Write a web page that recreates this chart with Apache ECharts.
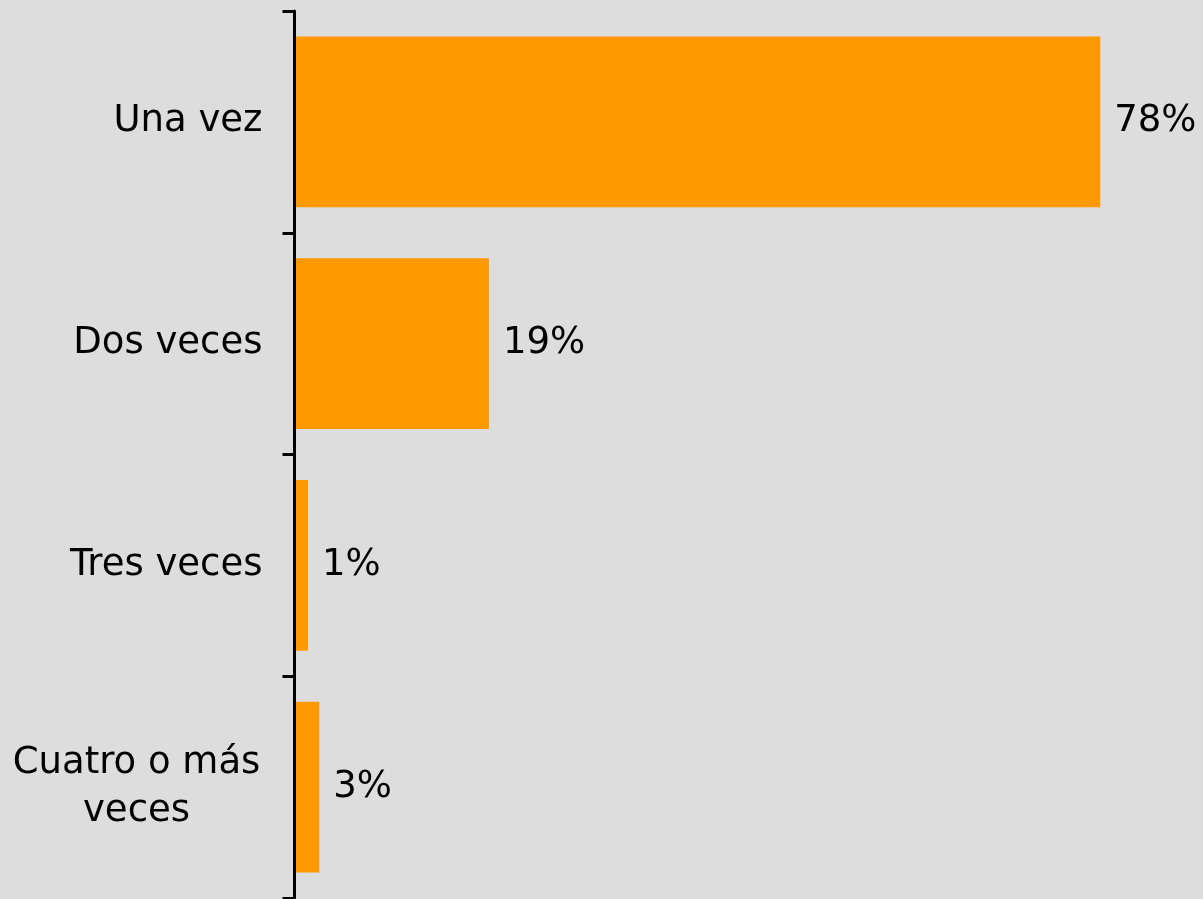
<!DOCTYPE html>
<html>
<head>
<meta charset="utf-8">
<script src="https://cdn.jsdelivr.net/npm/echarts@6/dist/echarts.min.js"></script>
<style>
html,body{margin:0;padding:0;background:#dddddd;}
#chart{width:1203px;height:899px;}
</style>
</head>
<body>
<div id="chart"></div>
<script>
const categories = ["Una vez", "Dos veces", "Tres veces", "Cuatro o más\nveces"];
const values = [77.9, 18.8, 1.3, 2.4];
const valueLabels = ["78%", "19%", "1%", "3%"];

const chart = echarts.init(document.getElementById('chart'), null, {renderer: 'canvas'});
chart.setOption({
  backgroundColor: '#dddddd',
  animation: false,
  grid: {left: 294.5, right: 81, top: 11, bottom: 1, containLabel: false},
  xAxis: {
    type: 'value', min: 0, max: 80, show: false
  },
  yAxis: {
    type: 'category',
    data: categories,
    inverse: true,
    z: 5,
    axisLine: {show: true, lineStyle: {color: '#000', width: 3}},
    axisTick: {show: true, length: 12, lineStyle: {color: '#000', width: 3}},
    axisLabel: {
      margin: 32,
      fontFamily: 'DejaVu Sans',
      fontSize: 37,
      color: '#000',
      lineHeight: 48,
      formatter: v => v.indexOf('\n') >= 0
        ? v.split('\n').map(s => '{c|' + s + '}').join('\n')
        : v,
      rich: {
        c: {width: 252, align: 'center', fontFamily: 'DejaVu Sans', fontSize: 37, color: '#000', lineHeight: 48}
      }
    },
    splitLine: {show: false}
  },
  series: [{
    type: 'bar',
    data: values.map((v, i) => ({value: v, label: {formatter: valueLabels[i]}})),
    barCategoryGap: '23%',
    itemStyle: {color: '#FF9900'},
    label: {
      show: true,
      position: 'right',
      distance: 14,
      fontFamily: 'DejaVu Sans',
      fontSize: 37,
      color: '#000'
    }
  }]
});
</script>
</body>
</html>
